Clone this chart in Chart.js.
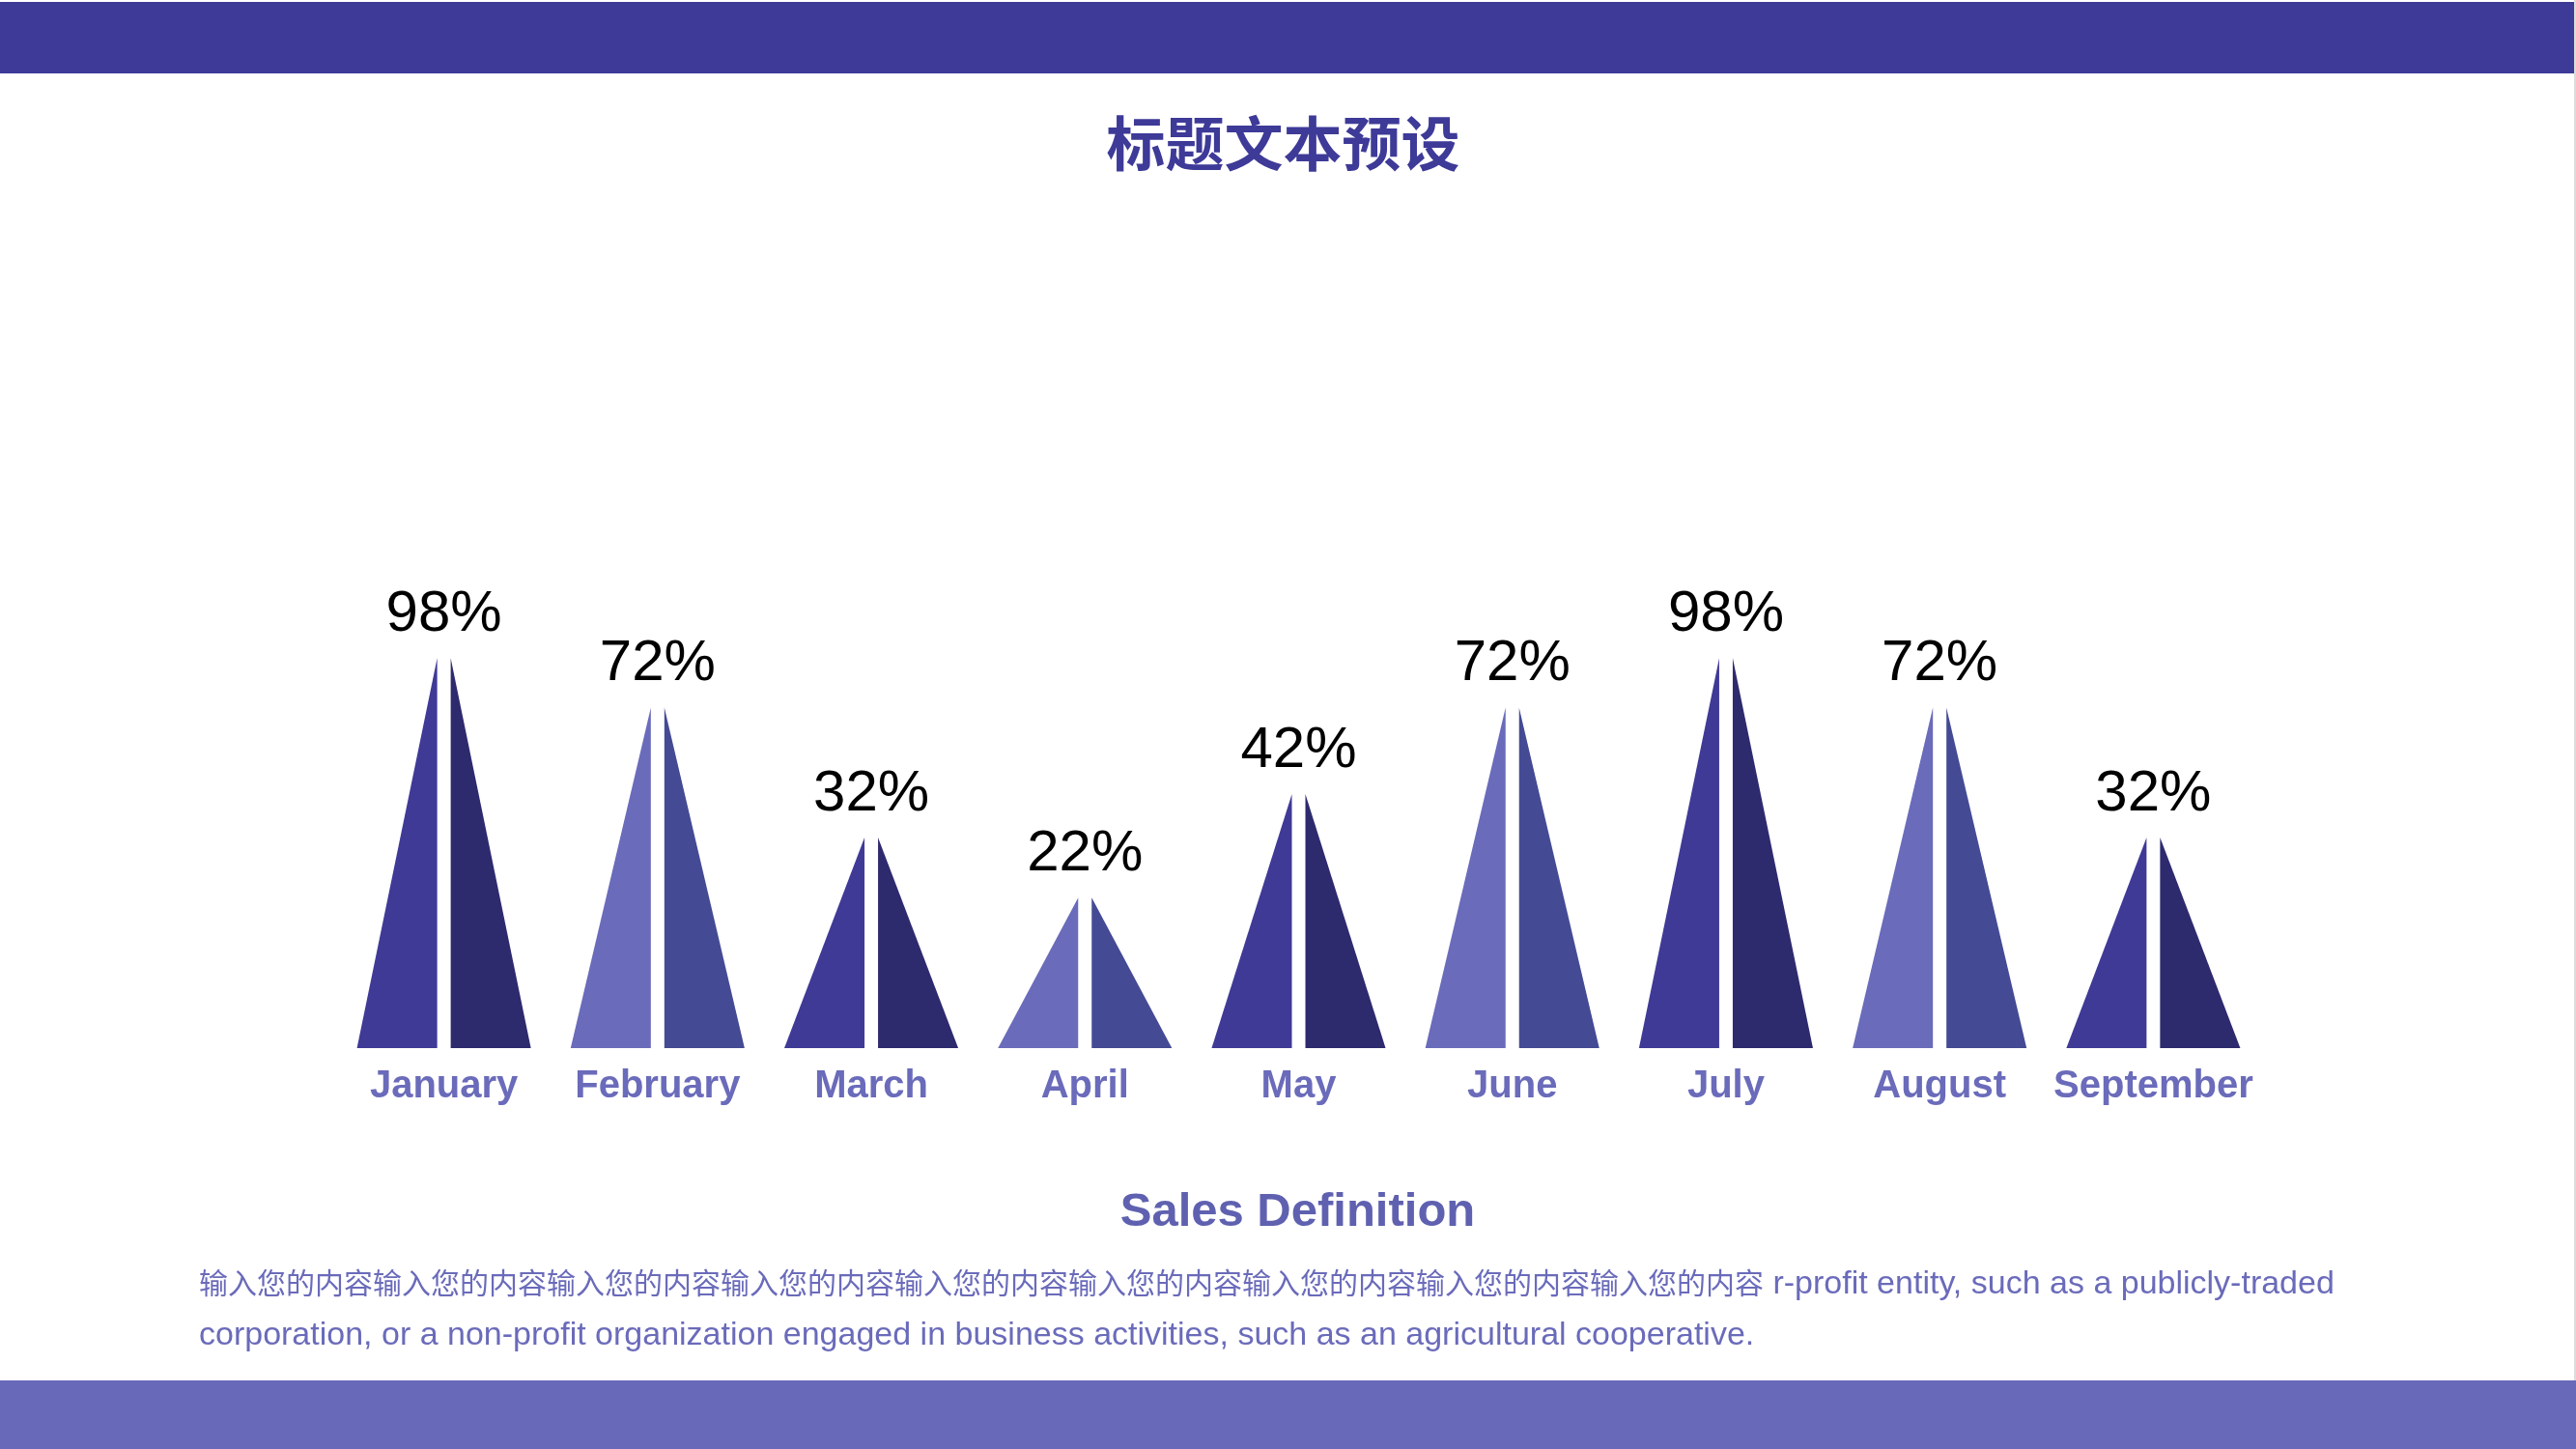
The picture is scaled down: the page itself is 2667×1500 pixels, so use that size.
<!DOCTYPE html>
<html>
<head>
<meta charset="utf-8">
<script src="https://cdn.jsdelivr.net/npm/chart.js@4/dist/chart.umd.min.js"></script>
<style>
body{margin:0;width:2667px;height:1500px;position:relative;overflow:hidden;background:#fff;font-family:"Liberation Sans",Arial,"Noto Sans CJK SC",sans-serif}
#topband{position:absolute;left:0;top:2px;width:2667px;height:74px;background:#3e3a98}
#bottomband{position:absolute;left:0;top:1429px;width:2667px;height:71px;background:#6869b8}
#edge{position:absolute;right:0;top:0;width:2px;height:1429px;background:#dcdcdc}
#title{position:absolute;top:116px;left:-5px;width:2667px;text-align:center;font-weight:bold;font-size:61px;line-height:60px;color:#3e3a98;font-family:"Noto Sans CJK SC",sans-serif}
#chartbox{position:absolute;left:0;top:0;width:2667px;height:1500px}
#subtitle{position:absolute;top:1226px;left:10px;width:2667px;text-align:center;font-weight:bold;font-size:49px;line-height:52px;color:#5f61b0}
#para{position:absolute;top:1300px;left:206px;font-size:34px;line-height:53px;color:#6a6bba;white-space:nowrap}
#para .cn{font-family:"Noto Sans CJK SC",sans-serif;font-size:30px}
</style>
</head>
<body>
<div id="topband"></div>
<div id="bottomband"></div>
<div id="edge"></div>
<div id="title">标题文本预设</div>
<div id="chartbox"><canvas id="pyramids" width="2667" height="1500"></canvas></div>
<div id="subtitle">Sales Definition</div>
<div id="para"><span class="cn">输入您的内容输入您的内容输入您的内容输入您的内容输入您的内容输入您的内容输入您的内容输入您的内容输入您的内容</span> r-profit entity, such as a publicly-traded<br>corporation, or a non-profit organization engaged in business activities, such as an agricultural cooperative.</div>

<script>
// chart data
const months = ['January', 'February', 'March', 'April', 'May', 'June', 'July', 'August', 'September'];
const salesPct = [98, 72, 32, 22, 42, 72, 98, 72, 32];

// two tones per pyramid, alternating by month
const leftColors = ['#3f3a96', '#6a6bba'];
const rightColors = ['#2e2a6e', '#444a93'];

// draws each bar as a split triangle + the % label above it
const pyramidPlugin = {
    id: 'pyramids',
    afterDatasetsDraw(chart) {
        const ctx = chart.ctx;
        const meta = chart.getDatasetMeta(0);
        const gap = 7;
        meta.data.forEach((bar, i) => {
            const half = bar.width / 2;
            const cx = bar.x, top = bar.y, base = bar.base;
            ctx.save();
            ctx.fillStyle = leftColors[i % 2];
            ctx.beginPath();
            ctx.moveTo(cx - half, base);
            ctx.lineTo(cx - gap, top);
            ctx.lineTo(cx - gap, base);
            ctx.closePath();
            ctx.fill();

            ctx.fillStyle = rightColors[i % 2];
            ctx.beginPath();
            ctx.moveTo(cx + gap, top);
            ctx.lineTo(cx + half, base);
            ctx.lineTo(cx + gap, base);
            ctx.closePath();
            ctx.fill();

            ctx.fillStyle = '#000';
            ctx.font = '60px "Liberation Sans", Arial, sans-serif';
            ctx.textAlign = 'center';
            ctx.textBaseline = 'alphabetic';
            ctx.fillText(salesPct[i] + '%', cx, top - 28);
            ctx.restore();
        });
    }
};

const ctx = document.getElementById('pyramids').getContext('2d');
const chart = new Chart(ctx, {
    type: 'bar',
    data: {
        labels: months,
        datasets: [{
            label: 'Sales',
            data: salesPct,
            backgroundColor: 'rgba(0,0,0,0)',
            borderWidth: 0,
            categoryPercentage: 1,
            barPercentage: 0.814
        }]
    },
    options: {
        responsive: false,
        animation: false,
        devicePixelRatio: 1,
        layout: {
            padding: {left: 349, right: 327, top: 678, bottom: 335}
        },
        scales: {
            x: {
                grid: {display: false, drawTicks: false},
                border: {display: false},
                ticks: {
                    padding: 16,
                    color: '#6a6bba',
                    font: {family: '"Liberation Sans", Arial, sans-serif', size: 40, weight: 'bold'}
                }
            },
            y: {
                type: 'logarithmic',
                display: false,
                bounds: 'data',
                min: 8.6,
                max: 100
            }
        },
        plugins: {
            legend: {display: false},
            tooltip: {enabled: false}
        }
    },
    plugins: [pyramidPlugin]
});
</script>
</body>
</html>
